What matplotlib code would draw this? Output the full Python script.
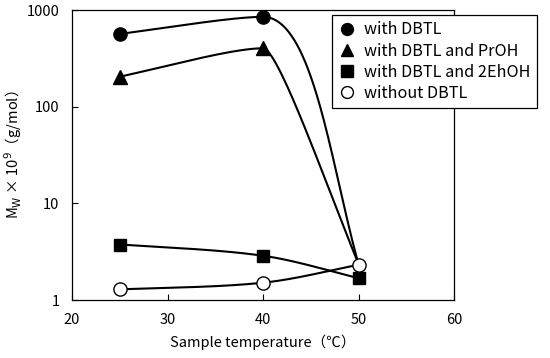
import numpy as np
import matplotlib
matplotlib.use("Agg")
import matplotlib.pyplot as plt
from matplotlib.ticker import FixedLocator, NullLocator, FixedFormatter

plt.rcParams['font.family'] = ['Noto Sans CJK JP', 'DejaVu Sans']

temps = [25, 40, 50]
labels = ["with DBTL", "with DBTL and PrOH", "with DBTL and 2EhOH", "without DBTL"]
dbtl = [565, 850, 2.35]
dbtl_proh = [204, 402, 2.35]
dbtl_2ehoh = [3.75, 2.87, 1.68]
no_dbtl = [1.29, 1.51, 2.32]

# curve smoothing style (handle length of the rounded peak on its falling side)
peak_handle = [0.19, 0.064, 0.3, 0.3]

fig = plt.figure(figsize=(5.5, 3.58), dpi=100)
ax = fig.add_axes([0.131, 0.162, 0.6945, 0.810])
ax.set_xlim(20, 60)
ax.set_ylim(1, 1000)
ax.set_yscale('log')

W, H = 0.6945 * 550, 0.810 * 358

def to_px(x, y):
    return (np.asarray(x, float) - 20) / 40 * W, np.log10(np.asarray(y, float)) / 3 * H

def from_px(px, py):
    return px / W * 40 + 20, 10 ** (py / H * 3)

def unit(v):
    n = np.linalg.norm(v)
    return v / n if n > 0 else v

def bez(p1, c1, c2, p2, n=120):
    t = np.linspace(0, 1, n)[:, None]
    return ((1 - t) ** 3) * p1 + 3 * ((1 - t) ** 2) * t * c1 + 3 * (1 - t) * t ** 2 * c2 + t ** 3 * p2

def smooth(xs, ys, k_out, k_in=0.2, k=0.3, kend=0.38):
    px, py = to_px(xs, ys)
    P = np.column_stack([px, py])
    p0, p1, p2 = P
    L1 = np.linalg.norm(p1 - p0)
    L2 = np.linalg.norm(p2 - p1)
    if (p1[1] - p0[1]) * (p2[1] - p1[1]) < 0:
        d = np.array([1.0, 0.0])
        cin = p1 - d * L1 * k_in
        cout = p1 + d * L2 * k_out
    else:
        d = unit(p2 - p0)
        cin = p1 - d * L1 * k
        cout = p1 + d * L2 * k
    ds = unit(unit(cin - p0) + unit(p1 - p0))
    cs = p0 + ds * L1 * kend
    de = unit(unit(p2 - cout) + unit(p2 - p1))
    ce = p2 - de * L2 * kend
    seg = np.vstack([bez(p0, cs, cin, p1), bez(p1, cout, ce, p2)])
    return from_px(seg[:, 0], seg[:, 1])

series = [dbtl, dbtl_proh, dbtl_2ehoh, no_dbtl]
for s, kh in zip(series, peak_handle):
    sx, sy = smooth(temps, s, kh)
    ax.plot(sx, sy, color='black', lw=1.5, zorder=2)

ms = 9.5
ax.plot(temps[:2], dbtl[:2], 'o', color='black', ms=ms, zorder=3, label=labels[0])
ax.plot(temps[:2], dbtl_proh[:2], '^', color='black', ms=ms, zorder=3, label=labels[1])
ax.plot(temps, dbtl_2ehoh, 's', color='black', ms=ms - 0.5, zorder=3, label=labels[2])
ax.plot(temps, no_dbtl, 'o', mfc='white', mec='black', mew=1.0, ms=ms, zorder=4, label=labels[3])

ax.yaxis.set_major_locator(FixedLocator([1, 10, 100, 1000]))
ax.yaxis.set_major_formatter(FixedFormatter(['1', '10', '100', '1000']))
ax.yaxis.set_minor_locator(NullLocator())
ax.set_xticks([20, 30, 40, 50, 60])
ax.tick_params(direction='in', length=4, width=0.8, labelsize=10.5, pad=9)
ax.tick_params(axis='y', pad=9)
for sp in ax.spines.values():
    sp.set_linewidth(0.9)

ax.set_xlabel("Sample temperature（℃）", fontsize=10.5, labelpad=6)
ax.set_ylabel("M$_\\mathrm{W}$ × 10$^9$（g/mol）", fontsize=10.5, labelpad=2)

leg = fig.legend(loc='upper left', bbox_to_anchor=(332 / 550, 1 - 15 / 358), fontsize=11.7,
                 frameon=True, fancybox=False, edgecolor='black', framealpha=1,
                 handlelength=1.0, handletextpad=0.6, borderpad=0.4, labelspacing=0.25,
                 borderaxespad=0, markerscale=0.9)
leg.get_frame().set_linewidth(0.9)

fig.savefig("out.png", dpi=100)
